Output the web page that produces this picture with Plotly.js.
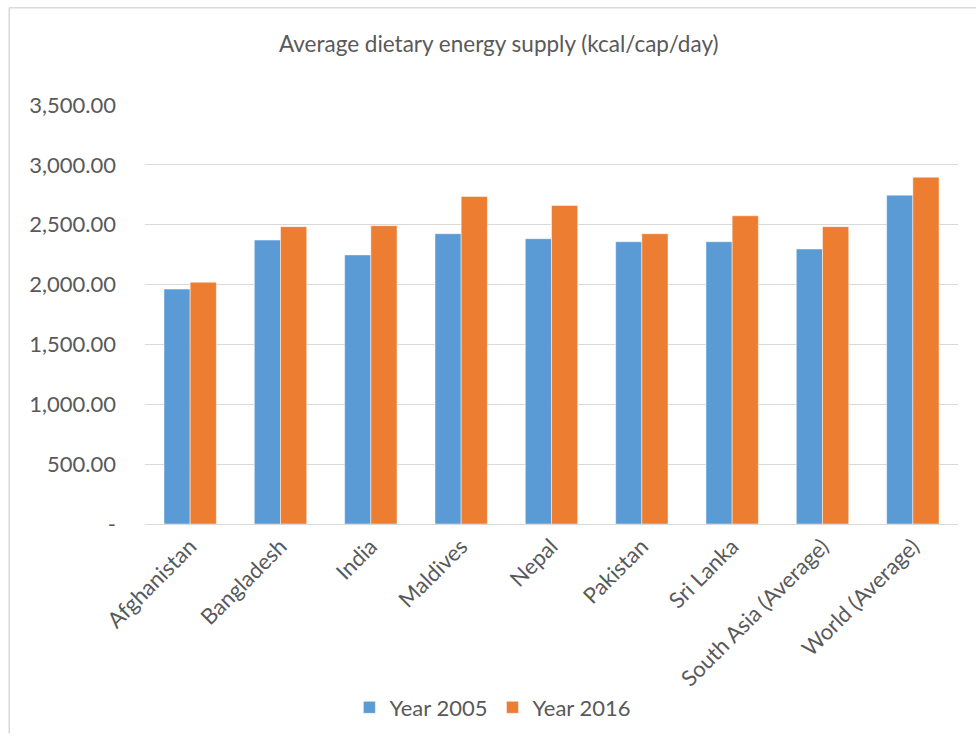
<!DOCTYPE html>
<html>
<head>
<meta charset="utf-8">
<script src="https://cdn.plot.ly/plotly-3.0.1.min.js"></script>
<style>html,body{margin:0;padding:0;background:#fff;}#chart{width:976px;height:737px;}</style>
</head>
<body>
<div id="chart"></div>
<script>
const categories = ["Afghanistan","Bangladesh","India","Maldives","Nepal","Pakistan","Sri Lanka","South Asia (Average)","World (Average)"];
const year2005 = [1962, 2372, 2248, 2425, 2383, 2358, 2358, 2297, 2747];
const year2016 = [2019, 2484, 2492, 2736, 2661, 2425, 2575, 2484, 2897];
const yTickVals = [0, 500, 1000, 1500, 2000, 2500, 3000, 3500];
const yTickText = ["-", "500.00", "1,000.00", "1,500.00", "2,000.00", "2,500.00", "3,000.00", "3,500.00"];

const fontFam = "Lato, Open Sans, sans-serif";
const data = [
  {type:"bar", name:"Year 2005", x:categories, y:year2005,
   marker:{color:"#5B9BD5", line:{color:"rgba(255,255,255,0.6)", width:0.8}}},
  {type:"bar", name:"Year 2016", x:categories, y:year2016,
   marker:{color:"#ED7D31", line:{color:"rgba(255,255,255,0.6)", width:0.8}}}
];
const layout = {
  width:976, height:737,
  margin:{l:145, r:18, t:105, b:213},
  paper_bgcolor:"#fff", plot_bgcolor:"#fff",
  font:{family:fontFam, color:"#595959", size:22},
  title:{text:"Average dietary energy supply (kcal/cap/day)", x:0.511, xref:"container", xanchor:"center", y:0.94, yanchor:"middle",
         font:{family:fontFam, size:22.5, color:"#595959"}},
  barmode:"group", bargap:0.42, bargroupgap:0,
  xaxis:{tickangle:-45, showgrid:false, showline:true, linecolor:"#d9d9d9", linewidth:1,
         ticks:"", tickfont:{size:22, color:"#595959"}, automargin:false},
  yaxis:{range:[0,3500], tickvals:yTickVals, ticktext:yTickText, showgrid:true, gridcolor:"#d9d9d9", gridwidth:1,
         zeroline:false, showline:false, ticks:"", tickfont:{size:22, color:"#595959"}, ticklabelstandoff:28, automargin:false},
  legend:{orientation:"h", x:0.505, xanchor:"center", xref:"container", y:0.04, yref:"container", yanchor:"middle",
          font:{size:22, color:"#595959"}, itemwidth:30, traceorder:"normal", bgcolor:"rgba(0,0,0,0)"},
  shapes:[
    {type:"line", xref:"paper", yref:"paper", x0:-0.167, x1:1.03, y0:1.232, y1:1.232, line:{color:"#d9d9d9", width:1.5}},
    {type:"line", xref:"paper", yref:"paper", x0:-0.167, x1:-0.167, y0:1.232, y1:-0.5, line:{color:"#d9d9d9", width:1.5}}
  ]
};
Plotly.newPlot("chart", data, layout, {displayModeBar:false, staticPlot:true});
</script>
</body>
</html>
